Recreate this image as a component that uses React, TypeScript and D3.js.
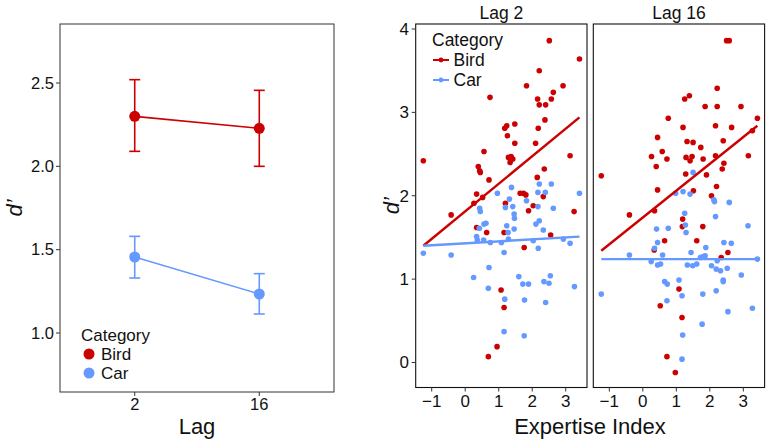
import React from "react";
import * as d3 from "d3";

const RED = "#cc0000";
const BLUE = "#6699ff";
const FONT = "'Liberation Sans', Arial, Helvetica, sans-serif";

// Left panel data (mean ± error)
const lags = ["2", "16"];
const birdMean = [2.30, 2.228];
const birdLo = [2.09, 2.0];
const birdHi = [2.52, 2.456];
const carMean = [1.456, 1.234];
const carLo = [1.33, 1.114];
const carHi = [1.58, 1.356];
const leftTicks = [1.0, 1.5, 2.0, 2.5];

// Right panels: [expertise index, d']
const lag2Bird: [number, number][] = [[-1.25,2.42],[2.51,3.86],[3.41,3.64],[2.21,3.50],[1.83,3.32],[2.92,3.32],[2.63,3.24],[0.74,3.18],[2.16,3.16],[2.57,3.16],[2.21,3.09],[2.40,3.09],[2.38,2.91],[1.18,2.81],[1.24,2.84],[1.48,2.86],[2.18,2.81],[1.26,2.72],[1.48,2.63],[2.10,2.63],[0.56,2.53],[1.29,2.46],[1.37,2.47],[1.42,2.44],[1.34,2.40],[3.13,2.48],[0.39,2.35],[0.43,2.30],[0.45,2.28],[2.36,2.32],[2.15,2.22],[0.71,2.19],[0.34,2.02],[0.52,1.98],[1.64,2.03],[1.74,2.03],[1.81,2.01],[2.33,1.99],[1.20,1.91],[2.03,1.88],[1.89,1.82],[-0.42,1.77],[3.25,1.81],[0.26,1.91],[0.34,1.62],[0.64,1.56],[1.16,1.56],[2.55,1.53],[1.76,1.38],[1.07,0.87],[1.16,0.66],[0.95,0.19],[0.69,0.07]];
const lag2Car: [number, number][] = [[0.96,2.03],[1.38,2.10],[2.21,2.14],[2.57,2.14],[2.17,2.04],[2.39,2.04],[1.32,1.96],[3.41,2.03],[0.43,1.85],[0.45,1.81],[1.20,1.86],[1.42,1.87],[1.83,1.94],[2.17,1.87],[2.63,1.85],[1.46,1.78],[1.47,1.73],[0.62,1.67],[0.56,1.66],[0.42,1.61],[1.24,1.64],[2.11,1.66],[2.21,1.70],[1.46,1.60],[1.28,1.56],[2.33,1.59],[0.34,1.51],[0.36,1.47],[0.55,1.47],[0.75,1.44],[1.08,1.44],[1.29,1.48],[2.03,1.46],[2.18,1.37],[2.93,1.48],[3.13,1.43],[-1.25,1.31],[-0.42,1.29],[1.16,1.32],[0.71,1.14],[0.25,1.02],[1.60,1.03],[2.54,1.04],[1.72,0.94],[1.89,0.94],[2.35,0.97],[2.50,0.95],[0.69,0.89],[3.26,0.91],[1.18,0.76],[1.77,0.75],[2.40,0.72],[1.16,0.37],[1.76,0.32]];
const lag16Bird: [number, number][] = [[2.50,3.86],[2.58,3.86],[2.22,3.29],[1.25,3.16],[1.39,3.20],[1.86,3.07],[2.22,3.07],[2.93,3.07],[0.76,2.93],[3.42,2.93],[1.20,2.82],[2.17,2.84],[2.65,2.82],[3.27,2.78],[0.44,2.70],[1.32,2.65],[1.50,2.64],[1.73,2.58],[2.40,2.66],[0.58,2.53],[0.26,2.47],[1.29,2.46],[1.47,2.47],[1.41,2.42],[0.72,2.44],[1.80,2.44],[2.17,2.48],[3.15,2.48],[0.40,2.35],[2.42,2.39],[2.37,2.32],[-1.24,2.24],[1.28,2.26],[1.90,2.25],[0.44,2.07],[1.51,2.06],[2.20,2.11],[2.05,2.00],[-0.40,1.77],[0.35,1.82],[1.19,1.72],[1.18,1.63],[1.79,1.63],[0.65,1.46],[1.61,1.46],[2.54,1.32],[2.34,1.26],[0.34,1.35],[1.08,0.88],[0.52,0.68],[1.17,0.54],[0.72,0.07],[0.97,-0.12]];
const lag16Car: [number, number][] = [[1.50,2.28],[0.98,2.03],[1.20,2.05],[1.41,2.02],[2.12,1.95],[2.14,1.93],[2.58,1.92],[1.25,1.79],[2.17,1.75],[0.41,1.60],[0.76,1.61],[1.27,1.65],[1.29,1.56],[3.14,1.64],[0.44,1.44],[0.35,1.37],[1.88,1.38],[2.42,1.44],[2.64,1.43],[1.44,1.32],[0.59,1.29],[-0.40,1.29],[1.72,1.26],[1.80,1.27],[1.86,1.28],[0.25,1.21],[0.44,1.17],[0.53,1.18],[1.33,1.17],[1.49,1.16],[1.61,1.18],[2.22,1.22],[2.05,1.16],[2.19,1.12],[2.32,1.10],[2.52,1.13],[2.94,1.05],[3.42,1.24],[1.08,0.99],[0.65,0.97],[0.73,0.94],[2.40,0.97],[2.40,0.99],[2.19,0.86],[1.17,0.80],[1.79,0.82],[-1.24,0.82],[0.72,0.74],[2.54,0.61],[3.27,0.65],[1.77,0.46],[1.19,0.33],[1.17,0.04]];

// Linear fit endpoints
const fitLag2Bird: [number, number][] = [[-1.25, 1.40], [3.41, 2.94]];
const fitLag2Car: [number, number][] = [[-1.25, 1.40], [3.41, 1.51]];
const fitLag16Bird: [number, number][] = [[-1.24, 1.34], [3.42, 2.84]];
const fitLag16Car: [number, number][] = [[-1.24, 1.24], [3.42, 1.24]];

const rightYTicks = [0, 1, 2, 3, 4];
const rightXTicks = [-1, 0, 1, 2, 3];
const panelTitles = ["Lag 2", "Lag 16"];

function LeftPanel() {
  const x0 = 60, x1 = 334, y0 = 24, y1 = 392;
  const x = d3.scaleLinear().domain([0.4, 2.6]).range([x0, x1]);
  const y = d3.scaleLinear().domain([0.646, 2.854]).range([y1, y0]);
  const line = d3.line<number>().x((_, i) => x(i + 1)).y((v) => y(v));
  const series = [
    { color: RED, mean: birdMean, lo: birdLo, hi: birdHi },
    { color: BLUE, mean: carMean, lo: carLo, hi: carHi },
  ];
  return (
    <g>
      {series.map((s, si) => (
        <g key={si}>
          {s.mean.map((_, i) => (
            <g key={i} stroke={s.color} strokeWidth={1.6}>
              <line x1={x(i + 1)} x2={x(i + 1)} y1={y(s.lo[i])} y2={y(s.hi[i])} />
              <line x1={x(i + 1) - 5.5} x2={x(i + 1) + 5.5} y1={y(s.lo[i])} y2={y(s.lo[i])} />
              <line x1={x(i + 1) - 5.5} x2={x(i + 1) + 5.5} y1={y(s.hi[i])} y2={y(s.hi[i])} />
            </g>
          ))}
          <path d={line(s.mean) || ""} fill="none" stroke={s.color} strokeWidth={1.6} />
          {s.mean.map((v, i) => (
            <circle key={i} cx={x(i + 1)} cy={y(v)} r={5.5} fill={s.color} />
          ))}
        </g>
      ))}
      <rect x={x0} y={y0} width={x1 - x0} height={y1 - y0} fill="none" stroke="#333" strokeWidth={1} />
      {leftTicks.map((t) => (
        <g key={t}>
          <line x1={x0 - 4} x2={x0} y1={y(t)} y2={y(t)} stroke="#333" />
          <text x={x0 - 6} y={y(t)} dy="0.35em" textAnchor="end" fontSize={16.5} fill="#111">{t.toFixed(1)}</text>
        </g>
      ))}
      {lags.map((l, i) => (
        <g key={l}>
          <line x1={x(i + 1)} x2={x(i + 1)} y1={y1} y2={y1 + 4} stroke="#333" />
          <text x={x(i + 1)} y={y1 + 18} textAnchor="middle" fontSize={16.5} fill="#111">{l}</text>
        </g>
      ))}
      <text x={(x0 + x1) / 2} y={434} textAnchor="middle" fontSize={22} fill="#111">Lag</text>
      <text transform={`translate(22,${(y0 + y1) / 2}) rotate(-90)`} textAnchor="middle" fontSize={22} fontStyle="italic" fill="#111">d’</text>
      <text x={81} y={341} fontSize={17} fill="#111">Category</text>
      <circle cx={89} cy={354} r={5.5} fill={RED} />
      <text x={101} y={360} fontSize={17} fill="#111">Bird</text>
      <circle cx={89} cy={373} r={5.5} fill={BLUE} />
      <text x={101} y={379} fontSize={17} fill="#111">Car</text>
    </g>
  );
}

function RightPanels() {
  const y0 = 24, y1 = 387.5;
  const panels = [
    { left: 415.7, right: 587, bird: lag2Bird, car: lag2Car, fb: fitLag2Bird, fc: fitLag2Car },
    { left: 593.3, right: 764.6, bird: lag16Bird, car: lag16Car, fb: fitLag16Bird, fc: fitLag16Car },
  ];
  const y = d3.scaleLinear().domain([-0.30, 4.06]).range([y1, y0]);
  return (
    <g>
      {panels.map((p, pi) => {
        const x = d3.scaleLinear().domain([-1.478, 3.635]).range([p.left, p.right]);
        const ln = d3.line<[number, number]>().x((d) => x(d[0])).y((d) => y(d[1]));
        return (
          <g key={pi}>
            {p.bird.map((d, i) => (
              <circle key={"b" + i} cx={x(d[0])} cy={y(d[1])} r={2.8} fill={RED} />
            ))}
            {p.car.map((d, i) => (
              <circle key={"c" + i} cx={x(d[0])} cy={y(d[1])} r={2.8} fill={BLUE} />
            ))}
            <path d={ln(p.fb) || ""} stroke={RED} strokeWidth={2.4} fill="none" />
            <path d={ln(p.fc) || ""} stroke={BLUE} strokeWidth={2.4} fill="none" />
            <rect x={p.left} y={y0} width={p.right - p.left} height={y1 - y0} fill="none" stroke="#111" strokeWidth={1.1} />
            <text x={(p.left + p.right) / 2} y={18.5} textAnchor="middle" fontSize={17.5} fill="#111">{panelTitles[pi]}</text>
            {rightXTicks.map((t) => (
              <g key={t}>
                <line x1={x(t)} x2={x(t)} y1={y1} y2={y1 + 4} stroke="#333" />
                <text x={x(t)} y={y1 + 19.5} textAnchor="middle" fontSize={17} fill="#111">{t < 0 ? "−" + Math.abs(t) : String(t)}</text>
              </g>
            ))}
          </g>
        );
      })}
      {rightYTicks.map((t) => (
        <g key={t}>
          <line x1={411.7} x2={415.7} y1={y(t)} y2={y(t)} stroke="#333" />
          <text x={409} y={y(t)} dy="0.35em" textAnchor="end" fontSize={17} fill="#111">{t}</text>
        </g>
      ))}
      <text x={590} y={434} textAnchor="middle" fontSize={22} fill="#111">Expertise Index</text>
      <text transform={`translate(399,${(y0 + y1) / 2}) rotate(-90)`} textAnchor="middle" fontSize={22} fontStyle="italic" fill="#111">d’</text>
      <text x={432} y={45.5} fontSize={17.5} fill="#111">Category</text>
      <line x1={433} x2={449} y1={60} y2={60} stroke={RED} strokeWidth={2} />
      <circle cx={441} cy={60} r={2.4} fill={RED} />
      <text x={453.5} y={66} fontSize={17.5} fill="#111">Bird</text>
      <line x1={433} x2={449} y1={80} y2={80} stroke={BLUE} strokeWidth={2} />
      <circle cx={441} cy={80} r={2.4} fill={BLUE} />
      <text x={453.5} y={85.5} fontSize={17.5} fill="#111">Car</text>
    </g>
  );
}

export default function App() {
  return (
    <svg width={771} height={443} style={{ position: "absolute", left: 0, top: 0, background: "#fff" }} fontFamily={FONT}>
      <rect width={771} height={443} fill="#fff" />
      <LeftPanel />
      <RightPanels />
    </svg>
  );
}
